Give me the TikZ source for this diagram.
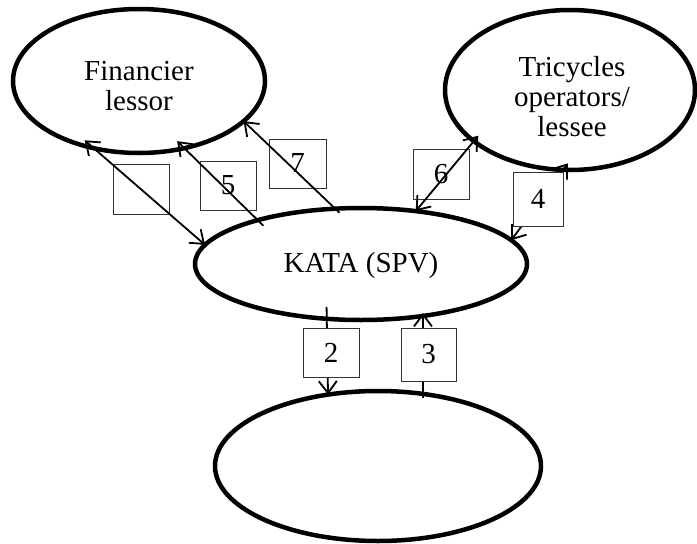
\documentclass[tikz,border=0pt]{standalone}
\usepackage{fontspec}
\setmainfont{Liberation Serif}
\usetikzlibrary{arrows.meta,shapes.geometric}
\begin{document}
\begin{tikzpicture}[x=1pt,y=-1pt,
  ell/.style={draw, ellipse, line width=4.5pt, outer sep=0pt, inner sep=0pt},
  lbl/.style={font=\fontsize{29}{30}\selectfont, align=center, inner sep=0pt},
  numbox/.style={draw=black!80, line width=0.9pt, fill=white, inner sep=0pt,
    outer sep=0pt, font=\fontsize{29}{30}\selectfont},
  flow/.style={line width=1.8pt},
  >={Straight Barb[length=12pt,width=18pt]}]
\useasboundingbox (0,0) rectangle (697,544);
% ellipses
\node[ell, minimum width=252pt, minimum height=144pt] (fin) at (139,81) {};
\node[ell, minimum width=250pt, minimum height=160pt] (tri) at (570,90) {};
\node[ell, minimum width=332pt, minimum height=112pt] (kata) at (361,264) {};
\node[ell, minimum width=326pt, minimum height=150pt] (bot) at (378,466) {};
% texts
\node[lbl] (finT) at (139,86) {Financier\\lessor};
\node[lbl] (triT) at (572,97) {Tricycles\\operators/\\lessee};
\node[lbl] (kataT) at (361,266) {KATA (SPV)};
% boxes under the lines
\node[numbox, minimum width=56pt, minimum height=50pt] (b1) at (141,189) {};
\node[numbox, minimum width=56pt, minimum height=49pt] (b5) at (228,185.5) {5};
\node[numbox, minimum width=57pt, minimum height=49pt] (b7) at (297.5,163.5) {7};
\node[numbox, minimum width=56pt, minimum height=50pt] (b6) at (441,174) {6};
% connectors
\draw[flow,<->,shorten <=-12pt] (fin.236) -- (kata.173);
\draw[flow,->,shorten >=-10pt,shorten <=-8pt] (kata.157) -- (fin.-56);
\draw[flow,->,shorten <=-6pt] (kata.115) -- (fin.-21);
\draw[flow,<->,shorten >=-7pt] (kata.44) -- (tri.208);
\draw[flow,<->,shorten >=-8pt] (kata.9) -- (tri.265);
\draw[flow,->,shorten <=-12pt] (kata.-122) -- (bot.125);
\draw[flow,->,shorten <=-4pt,shorten >=-3pt] (bot.58) -- (kata.-40);
% boxes over the lines
\node[numbox, minimum width=50pt, minimum height=54pt] (b4) at (538,199) {4};
\node[numbox, minimum width=56pt, minimum height=49pt] (b2) at (331,352.5) {2};
\node[numbox, minimum width=55pt, minimum height=53pt] (b3) at (428.5,354.5) {3};
\end{tikzpicture}
\end{document}
